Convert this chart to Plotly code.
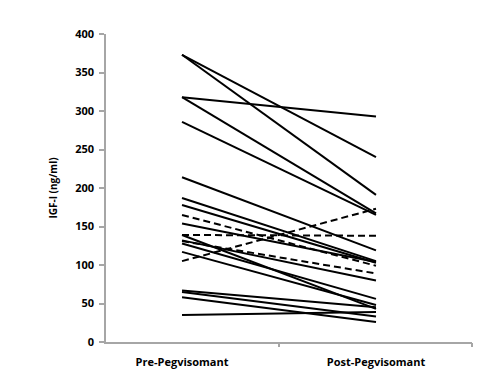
import plotly.graph_objects as go

categories = ["Pre-Pegvisomant", "Post-Pegvisomant"]
y_ticks = [0, 50, 100, 150, 200, 250, 300, 350, 400]

# solid-line patients (pre, post)
solid_pre = [373, 373, 318, 318, 286, 214, 187, 178, 154, 139, 132, 128, 117, 67, 65, 58, 35]
solid_post = [240, 191, 293, 167, 165, 119, 105, 103, 104, 43, 80, 56, 48, 45, 33, 26, 39]

# dashed-line patients (pre, post)
dashed_pre = [165, 139, 131, 105]
dashed_post = [99, 138, 89, 173]

fig = go.Figure()
xpos = [0, 1]
for a, b in zip(solid_pre, solid_post):
    fig.add_trace(go.Scatter(x=xpos, y=[a, b], mode="lines",
                             line=dict(color="black", width=2), showlegend=False,
                             hoverinfo="skip"))
for a, b in zip(dashed_pre, dashed_post):
    fig.add_trace(go.Scatter(x=xpos, y=[a, b], mode="lines",
                             line=dict(color="black", width=2, dash="7px,4px"),
                             showlegend=False, hoverinfo="skip"))

xr = [-0.392, 1.495]
axis_gray = "#a6a6a6"
lab_font = dict(size=11, family="Open Sans", weight="bold", color="black")
fig.update_layout(
    width=500, height=386,
    margin=dict(l=98, r=36, t=26, b=52),
    plot_bgcolor="white", paper_bgcolor="white",
    font=dict(family="Open Sans", color="black"),
    xaxis=dict(range=xr, tickmode="array", tickvals=xpos, ticktext=categories,
               ticks="", showline=True, linecolor=axis_gray, linewidth=1.5,
               showgrid=False, zeroline=False, ticklabelstandoff=9,
               tickfont=lab_font),
    xaxis2=dict(range=xr, overlaying="x", tickmode="array", tickvals=[0.5, 1.495],
                ticks="outside", ticklen=4, tickcolor=axis_gray, tickwidth=1.5,
                showticklabels=False, showline=False, showgrid=False,
                zeroline=False, side="bottom"),
    yaxis=dict(range=[0, 400], tickmode="array", tickvals=y_ticks,
               ticks="outside", ticklen=5, tickcolor=axis_gray, tickwidth=1.5,
               showline=True, linecolor=axis_gray, linewidth=1.5,
               showgrid=False, zeroline=False, ticklabelstandoff=3,
               tickfont=lab_font,
               title=dict(text="IGF-I (ng/ml)", standoff=16,
                          font=dict(size=10, family="Open Sans", weight="bold"))),
)
fig.add_trace(go.Scatter(x=[0.5], y=[None], xaxis="x2", mode="markers",
                         showlegend=False, hoverinfo="skip"))

fig.write_html("out.html")
